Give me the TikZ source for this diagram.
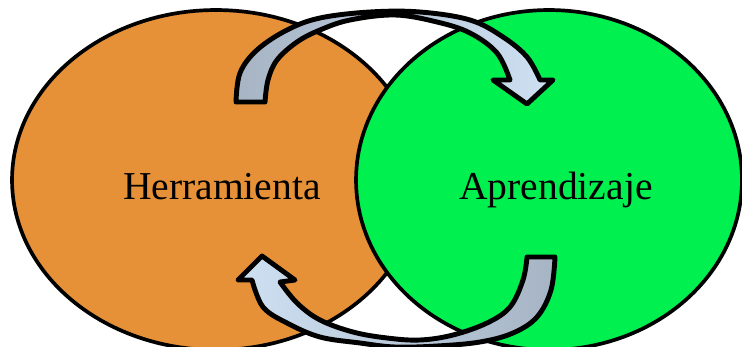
\documentclass[tikz,border=0pt]{standalone}
\usepackage{fontspec}
\setmainfont{Liberation Serif}
\usetikzlibrary{shapes.geometric}
\definecolor{herrfill}{HTML}{E69138}
\definecolor{aprfill}{HTML}{00F050}
\definecolor{arrowgray}{HTML}{A6B4C4}
\definecolor{arrowlight}{HTML}{CEE0F2}
\begin{document}
\begin{tikzpicture}[x=0.02cm,y=-0.02cm,
  blob/.style={ellipse, draw=black, line width=2.1pt, inner sep=0pt, minimum height=6.8cm},
  bigtext/.style={font=\fontsize{22.5}{27}\selectfont, anchor=base, inner sep=0pt},
  cycarrow/.style={draw=black, line width=2.8pt, line join=round}]
\useasboundingbox (0,0) rectangle (742,347);
\begin{scope}
\clip (0,0) rectangle (742,347);
% the two overlapping sets
\node[blob, fill=herrfill, minimum width=8.16cm] (herr) at (216,180) {};
\node[blob, fill=aprfill, minimum width=7.72cm] (apr) at (549,180) {};
\node[bigtext] (herrtext) at (222,200) {Herramienta};
\node[bigtext] (aprtext) at (556,200) {Aprendizaje};
% upper curved arrow, from Herramienta to Aprendizaje
\path[cycarrow, left color=arrowgray, right color=arrowlight]
  (236,102) -- (265,102)
  -- plot[smooth, tension=0.6] coordinates {(265,102) (268,80) (277,60) (297,42) (320,30) (350,20) (395,15) (437,22) (470,33) (497,53) (510,80)}
  -- (493,80) -- (527,104) -- (553,80) -- (540,80)
  -- plot[smooth, tension=0.6] coordinates {(540,80) (527,57) (503,37) (470,20) (420,12) (370,12) (320,18) (287,30) (257,50) (240,73) (236,102)}
  -- cycle;
% lower curved arrow, from Aprendizaje back to Herramienta
\path[cycarrow, left color=arrowlight, right color=arrowgray]
  (527,257) -- (555,257)
  -- plot[smooth, tension=0.6] coordinates {(555,257) (551,290) (537,317) (513,333) (480,342) (437,346) (395,347) (360,343) (320,337) (287,323) (263,307) (252,280)}
  -- (238,280) -- (262,256) -- (295,280) -- (280,282)
  -- plot[smooth, tension=0.6] coordinates {(280,282) (297,303) (320,320) (353,332) (387,338) (420,340) (453,335) (487,323) (510,307) (523,280) (527,257)}
  -- cycle;
\end{scope}
\end{tikzpicture}
\end{document}
